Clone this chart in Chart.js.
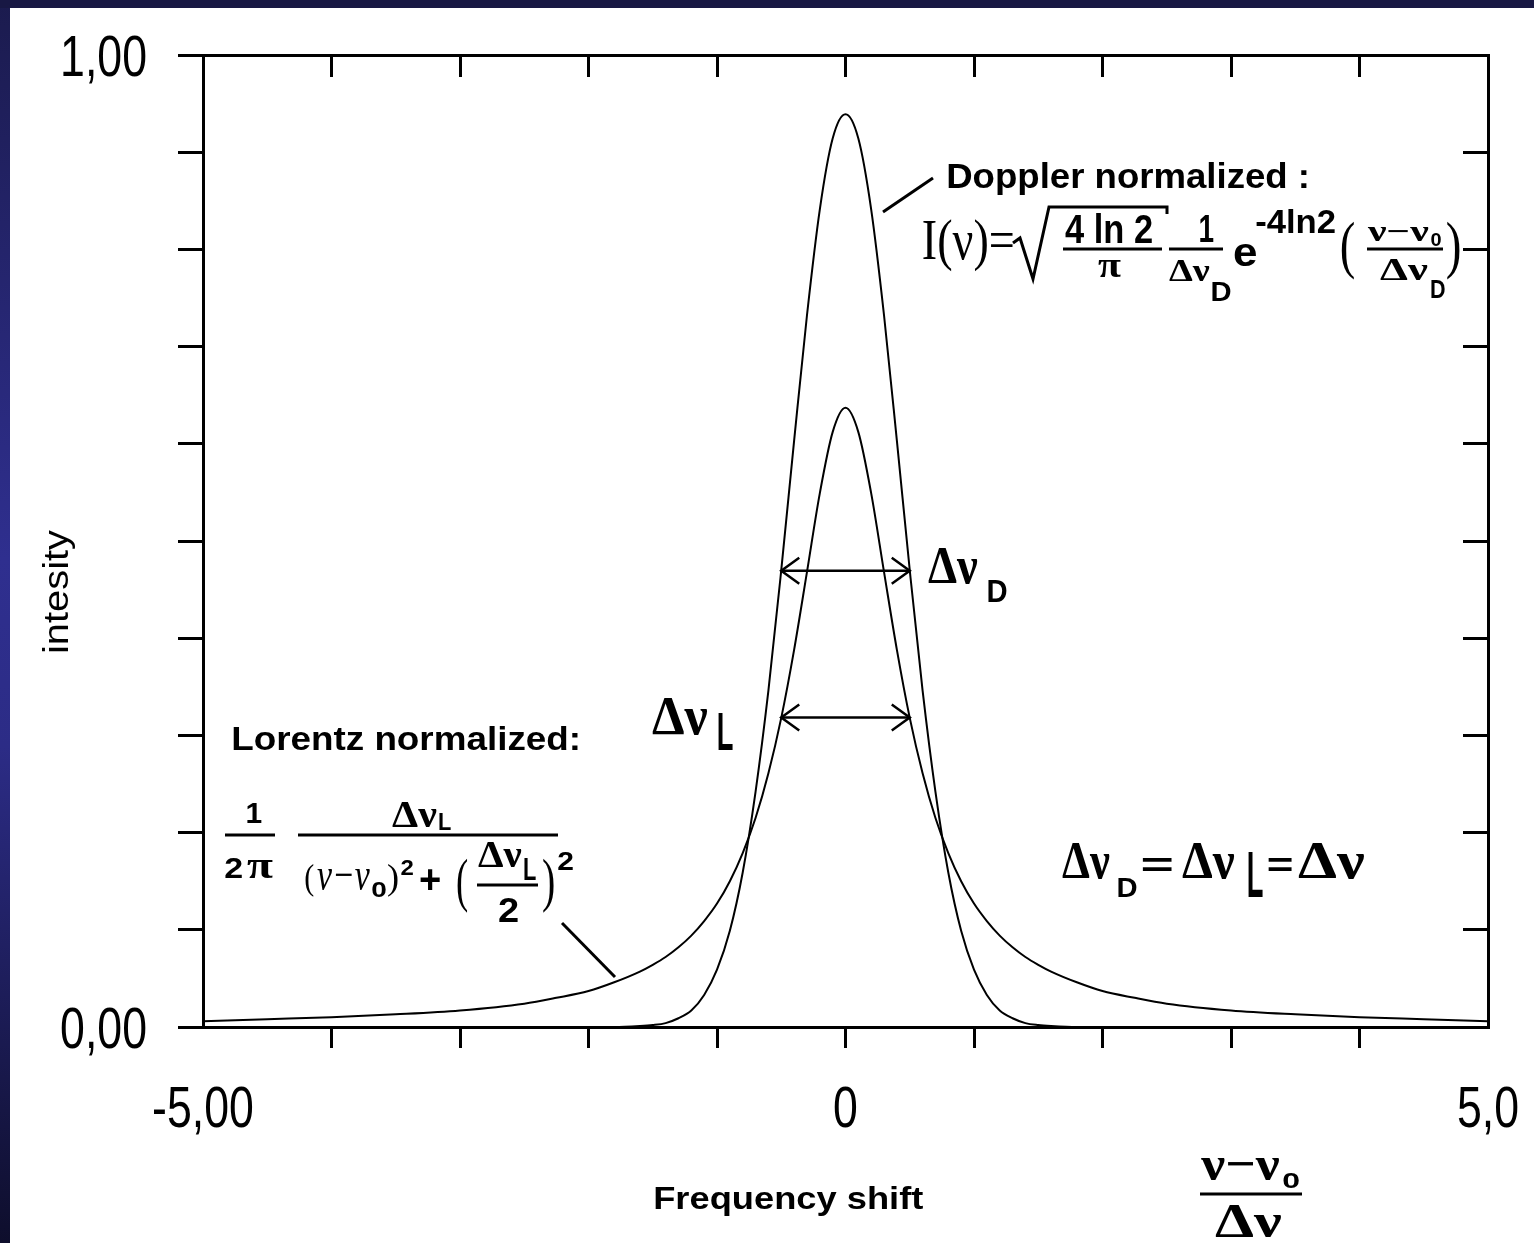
<!DOCTYPE html>
<html>
<head>
<meta charset="utf-8">
<script src="https://cdn.jsdelivr.net/npm/chart.js@4.4.1/dist/chart.umd.min.js"></script>
<style>
  html, body { margin: 0; padding: 0; background: #fff; }
  canvas { display: block; }
</style>
</head>
<body>
<canvas id="grafico" width="1534" height="1243"></canvas>
<script>
// frequency shift (nu - nu0) / delta nu
const freqShift = [-5, -4.5, -4, -3.5, -3, -2.5, -2.25, -2, -1.8, -1.6, -1.5, -1.4, -1.3, -1.2, -1.1, -1,
  -0.9, -0.8, -0.7, -0.6, -0.5, -0.4, -0.3, -0.2, -0.1, 0, 0.1, 0.2, 0.3, 0.4, 0.5, 0.6, 0.7, 0.8, 0.9,
  1, 1.1, 1.2, 1.3, 1.4, 1.5, 1.6, 1.8, 2, 2.25, 2.5, 3, 3.5, 4, 4.5, 5];

// Lorentz normalized profile
const lorentzNorm = [0.006, 0.008, 0.010, 0.013, 0.017, 0.024, 0.030, 0.037, 0.046, 0.057, 0.064, 0.072, 0.082, 0.094, 0.109, 0.127,
  0.150, 0.179, 0.215, 0.261, 0.318, 0.388, 0.468, 0.549, 0.612, 0.637, 0.612, 0.549, 0.468, 0.388, 0.318, 0.261, 0.215, 0.179, 0.150,
  0.127, 0.109, 0.094, 0.082, 0.072, 0.064, 0.057, 0.046, 0.037, 0.030, 0.024, 0.017, 0.013, 0.010, 0.008, 0.006];

// Doppler normalized profile
const dopplerNorm = [0, 0, 0, 0, 0, 0, 0, 0, 0, 0.001, 0.002, 0.004, 0.009, 0.017, 0.033, 0.059,
  0.099, 0.159, 0.242, 0.346, 0.470, 0.603, 0.732, 0.841, 0.914, 0.939, 0.914, 0.841, 0.732, 0.603, 0.470, 0.346, 0.242, 0.159, 0.099,
  0.059, 0.033, 0.017, 0.009, 0.004, 0.002, 0.001, 0, 0, 0, 0, 0, 0, 0, 0, 0];

const xTicks = [-5, 0, 5];
const xTickLabels = ['-5,00', '0', '5,0'];
const yTicks = [0, 1];
const yTickLabels = ['0,00', '1,00'];
const deltaNu = 1; // FWHM, delta nu D = delta nu L

const SANS = '40px "Liberation Sans", Arial, sans-serif';
const SANS_B = 'bold 40px "Liberation Sans", Arial, sans-serif';
const SERIF = '40px "Liberation Serif", "Times New Roman", serif';
const SERIF_B = 'bold 40px "Liberation Serif", "Times New Roman", serif';
const SERIF_I = 'italic 40px "Liberation Serif", "Times New Roman", serif';

// draws text so its ink fills the box x0..x1, y0..y1
function caixa(ctx, s, x0, y0, x1, y1, fonte) {
  ctx.save();
  ctx.font = fonte;
  ctx.textAlign = 'left';
  ctx.textBaseline = 'alphabetic';
  ctx.fillStyle = '#000';
  const m = ctx.measureText(s);
  const w = m.actualBoundingBoxLeft + m.actualBoundingBoxRight;
  const h = m.actualBoundingBoxAscent + m.actualBoundingBoxDescent;
  ctx.translate(x0, y0);
  ctx.scale((x1 - x0) / w, (y1 - y0) / h);
  ctx.fillText(s, m.actualBoundingBoxLeft, m.actualBoundingBoxAscent);
  ctx.restore();
}

// narrow tick label text
function textoEstreito(ctx, s, x, base, align) {
  ctx.save();
  ctx.font = '58px "Liberation Sans", Arial, sans-serif';
  ctx.fillStyle = '#000';
  ctx.textAlign = align;
  ctx.textBaseline = 'alphabetic';
  ctx.translate(x, base);
  ctx.scale(0.77, 1);
  ctx.fillText(s, 0, 0);
  ctx.restore();
}

function traco(ctx, pts, w) {
  ctx.save();
  ctx.strokeStyle = '#000';
  ctx.lineWidth = w || 3;
  ctx.lineJoin = 'miter';
  ctx.beginPath();
  ctx.moveTo(pts[0], pts[1]);
  for (let i = 2; i < pts.length; i += 2) ctx.lineTo(pts[i], pts[i + 1]);
  ctx.stroke();
  ctx.restore();
}

function seta(ctx, xa, xb, y) {
  traco(ctx, [xa, y, xb, y], 2.5);
  traco(ctx, [xa + 18, y - 13, xa, y, xa + 18, y + 13], 2.5);
  traco(ctx, [xb - 18, y - 13, xb, y, xb - 18, y + 13], 2.5);
}

const anotacoes = {
  id: 'anotacoes',
  beforeDraw(chart) {
    const ctx = chart.ctx;
    ctx.save();
    ctx.fillStyle = '#fff';
    ctx.fillRect(0, 0, chart.width, chart.height);
    const grad = ctx.createLinearGradient(0, 0, 0, chart.height);
    grad.addColorStop(0, '#1b1b4e');
    grad.addColorStop(0.45, '#2f2f8f');
    grad.addColorStop(0.6, '#2c2c86');
    grad.addColorStop(1, '#0e0e2c');
    ctx.fillStyle = grad;
    ctx.fillRect(0, 0, 10, chart.height);
    ctx.fillStyle = '#181844';
    ctx.fillRect(0, 0, chart.width, 8);
    ctx.restore();
  },
  afterDraw(chart) {
    const ctx = chart.ctx;
    const sx = chart.scales.x, sy = chart.scales.y;
    const area = chart.chartArea;

    // tick labels, placed on the scales
    xTicks.forEach((v, i) => {
      textoEstreito(ctx, xTickLabels[i], sx.getPixelForValue(v), area.bottom + 100, 'center');
    });
    yTicks.forEach((v, i) => {
      textoEstreito(ctx, yTickLabels[i], area.left - 56, sy.getPixelForValue(v) + 21, 'right');
    });

    // half-width arrows
    const picoD = Math.max(...dopplerNorm);
    const picoL = Math.max(...lorentzNorm);
    const xa = sx.getPixelForValue(-deltaNu / 2), xb = sx.getPixelForValue(deltaNu / 2);
    seta(ctx, xa, xb, sy.getPixelForValue(picoD / 2));
    seta(ctx, xa, xb, sy.getPixelForValue(picoL / 2));
    caixa(ctx, 'Δν', 928, 548, 978, 583, SERIF_B);
    caixa(ctx, 'D', 988, 580, 1007, 602, SANS_B);
    caixa(ctx, 'Δν', 652, 698, 708, 734, SERIF_B);
    caixa(ctx, 'L', 718, 712, 733, 750, SANS_B);

    // axis titles
    caixa(ctx, 'Frequency shift', 655, 1185, 923, 1215, SANS_B);
    ctx.save();
    ctx.translate(70, 652);
    ctx.rotate(-Math.PI / 2);
    caixa(ctx, 'intesity', 0, -28, 122, 5, SANS);
    ctx.restore();
    caixa(ctx, 'ν−ν', 1200, 1157, 1280, 1180, SERIF_B);
    caixa(ctx, '0', 1283, 1173, 1299, 1188, SANS_B);
    traco(ctx, [1200, 1194, 1302, 1194]);
    caixa(ctx, 'Δν', 1215, 1205, 1282, 1237, SERIF_B);

    // Doppler
    traco(ctx, [883, 212, 933, 178]);
    caixa(ctx, 'Doppler normalized :', 948, 162, 1307, 195, SANS_B);
    caixa(ctx, 'I(ν)=', 923, 220, 1013, 272, SERIF);
    traco(ctx, [1013, 243, 1020, 238, 1033, 279, 1049, 207, 1167, 207, 1167, 214]);
    caixa(ctx, '4 ln 2', 1065, 213, 1152, 243, SANS_B);
    traco(ctx, [1063, 249, 1162, 249]);
    caixa(ctx, 'π', 1098, 260, 1121, 277, SERIF_B);
    caixa(ctx, '1', 1200, 215, 1214, 242, SANS_B);
    traco(ctx, [1169, 249, 1223, 249]);
    caixa(ctx, 'Δν', 1169, 260, 1210, 281, SERIF_B);
    caixa(ctx, 'D', 1212, 282, 1231, 301, SANS_B);
    caixa(ctx, 'e', 1234, 244, 1256, 266, SANS_B);
    caixa(ctx, '-4ln2', 1256, 208, 1335, 233, SANS_B);
    caixa(ctx, '(', 1341, 222, 1355, 280, SERIF);
    caixa(ctx, 'ν−ν', 1367, 227, 1429, 241, SERIF_B);
    caixa(ctx, '0', 1431, 233, 1441, 246, SANS_B);
    traco(ctx, [1367, 249, 1443, 249]);
    caixa(ctx, 'Δν', 1380, 259, 1428, 280, SERIF_B);
    caixa(ctx, 'D', 1431, 280, 1445, 298, SANS_B);
    caixa(ctx, ')', 1447, 222, 1460, 280, SERIF);

    // Lorentz
    caixa(ctx, 'Lorentz normalized:', 233, 725, 578, 750, SANS_B);
    caixa(ctx, '1', 247, 802, 262, 823, SANS_B);
    traco(ctx, [225, 835, 275, 835]);
    caixa(ctx, '2', 225, 857, 242, 878, SANS_B);
    caixa(ctx, 'π', 247, 860, 273, 878, SERIF_B);
    traco(ctx, [298, 835, 558, 835]);
    caixa(ctx, 'Δν', 392, 803, 437, 827, SERIF_B);
    caixa(ctx, 'L', 439, 813, 451, 830, SANS_B);
    caixa(ctx, '(', 305, 863, 314, 897, SERIF);
    caixa(ctx, 'ν−ν', 317, 868, 370, 890, SERIF_I);
    caixa(ctx, '0', 372, 881, 386, 897, SANS_B);
    caixa(ctx, ')', 388, 863, 398, 897, SERIF);
    caixa(ctx, '2', 401, 860, 413, 875, SANS_B);
    caixa(ctx, '+', 420, 869, 440, 890, SANS_B);
    caixa(ctx, '(', 457, 858, 468, 913, SERIF);
    caixa(ctx, 'Δν', 478, 843, 522, 867, SERIF_B);
    caixa(ctx, 'L', 524, 858, 536, 880, SANS_B);
    traco(ctx, [477, 885, 538, 885]);
    caixa(ctx, '2', 499, 897, 518, 922, SANS_B);
    caixa(ctx, ')', 543, 858, 554, 913, SERIF);
    caixa(ctx, '2', 558, 852, 573, 870, SANS_B);
    traco(ctx, [562, 923, 615, 977]);

    // delta nu D = delta nu L = delta nu
    caixa(ctx, 'Δν', 1062, 843, 1110, 878, SERIF_B);
    caixa(ctx, 'D', 1118, 877, 1137, 897, SANS_B);
    caixa(ctx, '=', 1142, 858, 1172, 872, SANS_B);
    caixa(ctx, 'Δν', 1182, 843, 1235, 878, SERIF_B);
    caixa(ctx, 'L', 1248, 852, 1263, 897, SANS_B);
    caixa(ctx, '=', 1268, 858, 1292, 872, SANS_B);
    caixa(ctx, 'Δν', 1298, 843, 1365, 878, SERIF_B);
  }
};

const borda = { display: true, color: '#000', width: 3 };

function semPontas(c) {
  return c.tick && Math.abs(c.tick.value) === 5 ? 'rgba(0,0,0,0)' : '#000';
}

function pontos(serie) {
  return freqShift.map((x, i) => ({ x: x, y: serie[i] }));
}

new Chart(document.getElementById('grafico').getContext('2d'), {
  type: 'line',
  data: {
    datasets: [
      { label: 'Lorentz normalized', data: pontos(lorentzNorm), xAxisID: 'x', yAxisID: 'y',
        borderColor: '#000', borderWidth: 2, pointRadius: 0, fill: false, cubicInterpolationMode: 'monotone' },
      { label: 'Doppler normalized', data: pontos(dopplerNorm), xAxisID: 'x', yAxisID: 'y',
        borderColor: '#000', borderWidth: 2, pointRadius: 0, fill: false, cubicInterpolationMode: 'monotone' }
    ]
  },
  options: {
    responsive: false,
    animation: false,
    devicePixelRatio: 1,
    layout: { padding: 0 },
    plugins: { legend: { display: false }, tooltip: { enabled: false } },
    scales: {
      x: {
        type: 'linear', position: 'bottom', min: -5, max: 5,
        afterFit: (s) => { s.height = 216; s.paddingLeft = 0; s.paddingRight = 0; },
        border: borda,
        grid: { drawOnChartArea: false, tickLength: 21, tickWidth: 3, color: semPontas },
        ticks: { stepSize: 1, autoSkip: false, display: false }
      },
      x2: {
        type: 'linear', position: 'top', min: -5, max: 5,
        afterFit: (s) => { s.height = 55; s.paddingLeft = 0; s.paddingRight = 0; },
        border: borda,
        grid: { drawOnChartArea: false, tickLength: -22, tickWidth: 3, color: semPontas },
        ticks: { stepSize: 1, autoSkip: false, display: false }
      },
      y: {
        type: 'linear', position: 'left', min: 0, max: 1,
        afterFit: (s) => { s.width = 203; s.paddingTop = 0; s.paddingBottom = 0; },
        border: borda,
        grid: { drawOnChartArea: false, tickLength: 25, tickWidth: 3, color: '#000' },
        ticks: { stepSize: 0.1, autoSkip: false, display: false }
      },
      y2: {
        type: 'linear', position: 'right', min: 0, max: 1,
        afterFit: (s) => { s.width = 46; s.paddingTop = 0; s.paddingBottom = 0; },
        border: borda,
        grid: { drawOnChartArea: false, tickLength: -25, tickWidth: 3, color: '#000' },
        ticks: { stepSize: 0.1, autoSkip: false, display: false }
      }
    }
  },
  plugins: [anotacoes]
});
</script>
</body>
</html>
